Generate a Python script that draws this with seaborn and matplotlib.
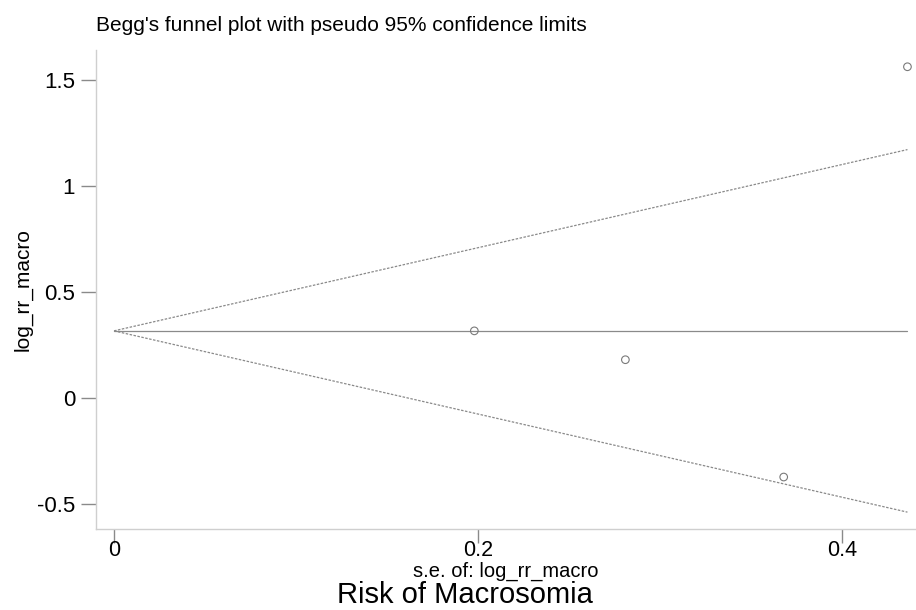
import matplotlib
matplotlib.use("Agg")
import matplotlib.pyplot as plt
import seaborn as sns
import numpy as np
import pandas as pd

# Data
se_values = [0.198, 0.281, 0.368, 0.436]
log_rr_values = [0.316, 0.180, -0.373, 1.561]
pooled_estimate = 0.316
se_max = 0.436
z_value = 1.96
x_ticks = [0, 0.2, 0.4]
x_tick_labels = ["0", "0.2", "0.4"]
y_ticks = [-0.5, 0, 0.5, 1, 1.5]
y_tick_labels = ["-0.5", "0", "0.5", "1", "1.5"]

sns.set_theme(style="white")
plt.rcParams['font.family'] = ['Liberation Sans', 'DejaVu Sans']

W, H = 916, 610
fig = plt.figure(figsize=(W / 100, H / 100), dpi=100)
ax_left, ax_bottom_px, ax_top_px = 96, 529, 50
ax = fig.add_axes([ax_left / W, 1 - ax_bottom_px / H, (W - ax_left) / W,
                   (ax_bottom_px - ax_top_px) / H])
ax_h = ax_bottom_px - ax_top_px
ax_w = W - ax_left

studies = pd.DataFrame({"se": se_values, "log_rr": log_rr_values})
funnel = pd.DataFrame({
    "se": [0, se_max, 0, se_max, 0, se_max],
    "y": [pooled_estimate, pooled_estimate + z_value * se_max,
          pooled_estimate, pooled_estimate - z_value * se_max,
          pooled_estimate, pooled_estimate],
    "line": ["upper", "upper", "lower", "lower", "pooled", "pooled"],
})

for name, ls in [("upper", (0, (2, 1.2))), ("lower", (0, (2, 1.2))), ("pooled", "-")]:
    sub = funnel[funnel["line"] == name]
    sns.lineplot(data=sub, x="se", y="y", ax=ax, color="#8a8a8a",
                 linewidth=0.9, linestyle=ls, estimator=None, sort=False)

sns.scatterplot(data=studies, x="se", y="log_rr", ax=ax, marker="o",
                s=30, facecolor="none", edgecolor="#7a7a7a", linewidth=0.8, zorder=5)

ax.set_xlim(-0.0099, 0.4407)
ax.set_ylim(-0.618, 1.64)
ax.set_xticks(x_ticks)
ax.set_xticklabels(x_tick_labels)
ax.set_yticks(y_ticks)
ax.set_yticklabels(y_tick_labels)

for side in ["top", "right"]:
    ax.spines[side].set_visible(False)
for side in ["left", "bottom"]:
    ax.spines[side].set_color("#cfcfcf")
    ax.spines[side].set_linewidth(1.0)

ax.tick_params(axis="both", which="major", direction="out", width=1.0,
               color="#8a8a8a", labelcolor="black", bottom=True, left=True)
ax.tick_params(axis="x", length=10, pad=-2, labelsize=15.5)
ax.tick_params(axis="y", length=11, pad=4, labelsize=16)

ax.set_xlabel("s.e. of: log_rr_macro", fontsize=14.5, color="black", va="baseline")
ax.xaxis.set_label_coords(0.5, (ax_bottom_px - 577) / ax_h)
ax.set_ylabel("log_rr_macro", fontsize=15, color="black", va="center")
ax.yaxis.set_label_coords((23 - ax_left) / ax_w, 0.5)

fig.text(ax_left / W, 1 - 31 / H, "Begg's funnel plot with pseudo 95% confidence limits",
         fontsize=15, ha="left", va="baseline", color="black")
fig.text(465 / W, 0.001, "Risk of Macrosomia", fontsize=21,
         ha="center", va="bottom", color="black")

fig.savefig("out.png", dpi=100, facecolor="white")
